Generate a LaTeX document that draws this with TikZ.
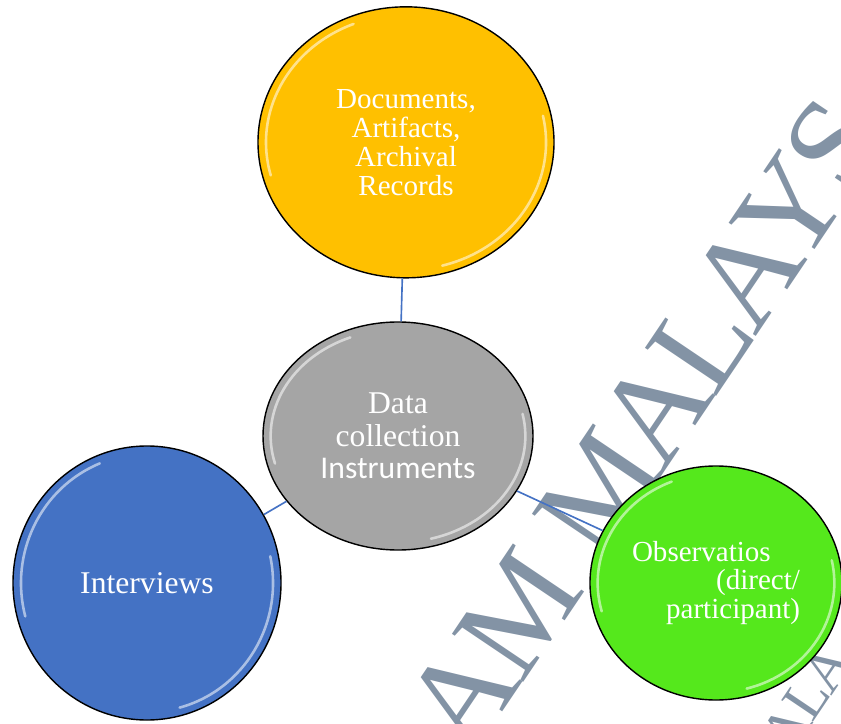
\documentclass[tikz,border=0pt]{standalone}
\usepackage{fontspec}
\setmainfont{Liberation Serif}
\newfontfamily\calibri{Carlito}
\newfontfamily\stampfont[LetterSpace=-4]{Liberation Serif}
\usetikzlibrary{shapes.geometric,calc}

\definecolor{docyellow}{HTML}{FFC000}
\definecolor{hubgray}{HTML}{A5A5A5}
\definecolor{intblue}{HTML}{4472C4}
\definecolor{obsgreen}{HTML}{55E81C}
\definecolor{linkblue}{HTML}{4472C4}
\definecolor{stampgray}{HTML}{8393A5}

\tikzset{
  bubble/.style={ellipse, draw=black, line width=1.2pt, inner sep=0pt, text=white, align=center},
  link/.style={draw=linkblue, line width=1.4pt},
  gloss/.style={white, line width=2.2pt, line cap=round, opacity=0.55},
  stamp/.style={text=stampgray, rotate=56, inner sep=0pt}
}

\begin{document}
\begin{tikzpicture}[x=1cm,y=1cm]
\clip (0,0) rectangle (25.23,-21.72);

% stamp in the background
\node[stamp, font=\stampfont\fontsize{112}{112}\selectfont] (stamp) at (19.35,-12.75) {AM MALAYS};
\node[stamp, font=\stampfont\fontsize{50}{50}\selectfont] (stamp2) at (24.2,-20.95) {ALA};

\node[bubble, fill=docyellow, minimum width=8.88cm, minimum height=8.13cm, font=\fontsize{24.8}{24.7}\selectfont] (docs) at (12.18,-4.27) {Documents,\\Artifacts,\\Archival\\Records};
\node[bubble, fill=hubgray, minimum width=8.10cm, minimum height=6.84cm, font=\fontsize{27}{27.6}\selectfont] (hub) at (11.94,-13.08) {Data\\collection\\{\calibri Instruments}};
\node[bubble, fill=intblue, minimum width=8.04cm, minimum height=8.22cm, font=\fontsize{27}{28}\selectfont] (intv) at (4.41,-17.49) {Interviews};
\node[bubble, fill=obsgreen, minimum width=7.56cm, minimum height=7.02cm, text width=5.04cm, align=right, font=\fontsize{24.8}{24.7}\selectfont] (obs) at (21.48,-17.49) {\makebox[5.04cm][l]{Observatios}\\(direct/\\participant)};

\draw[link] (docs) -- (hub);
\draw[link] (hub) -- (intv);
\draw[link] (hub) -- (obs);

% highlights along the rims
\foreach \n/\rx/\ry in {docs/4.2/3.83, hub/3.82/3.19, intv/3.78/3.87, obs/3.55/3.28} {
  \draw[gloss] ($(\n.center)+(112:{\rx} and {\ry})$) arc[start angle=112, end angle=195, x radius=\rx, y radius=\ry];
  \draw[gloss] ($(\n.center)+(-75:{\rx} and {\ry})$) arc[start angle=-75, end angle=12, x radius=\rx, y radius=\ry];
}
\end{tikzpicture}
\end{document}
